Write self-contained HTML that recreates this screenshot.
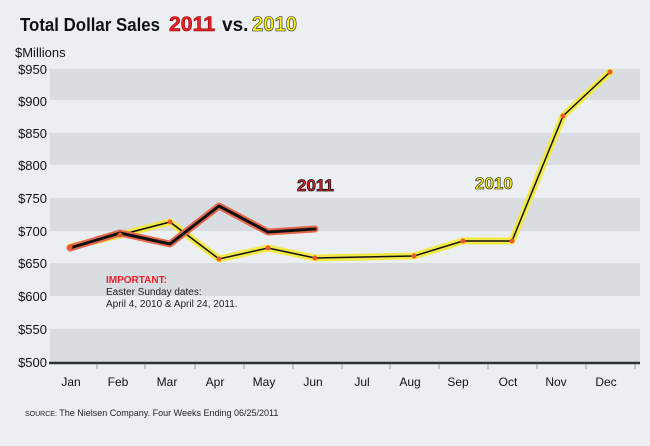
<!DOCTYPE html>
<html><head><style>
body{margin:0;background:#eceff2;}
svg{display:block;font-family:"Liberation Sans",sans-serif;}
</style></head><body>
<svg width="650" height="446" xmlns="http://www.w3.org/2000/svg">
<rect width="650" height="446" fill="#eceff2"/>
<text x="20" y="31" font-size="18" font-weight="bold" fill="#111" textLength="140" lengthAdjust="spacingAndGlyphs">Total Dollar Sales</text>
<text x="169" y="31" font-size="21" font-weight="bold" fill="#e8202a" stroke="#8b0000" stroke-width="0.6" textLength="46" lengthAdjust="spacingAndGlyphs">2011</text>
<text x="222" y="31" font-size="19" font-weight="bold" fill="#111">vs.</text>
<text x="252" y="31" font-size="21" font-weight="bold" fill="#f8ee20" stroke="#222" stroke-width="0.6" textLength="45" lengthAdjust="spacingAndGlyphs">2010</text>
<text x="15" y="57" font-size="13" fill="#111">$Millions</text>
<g fill="#d9dde1">
<rect x="50" y="69" width="590" height="31"/>
<rect x="50" y="133" width="590" height="32"/>
<rect x="50" y="198" width="590" height="33"/>
<rect x="50" y="263" width="590" height="33"/>
<rect x="50" y="329" width="590" height="33"/>
</g>
<g font-size="13" fill="#111" text-anchor="end">
<text x="47" y="74">$950</text><text x="47" y="106">$900</text><text x="47" y="138">$850</text>
<text x="47" y="170">$800</text><text x="47" y="203">$750</text><text x="47" y="236">$700</text>
<text x="47" y="268">$650</text><text x="47" y="301">$600</text><text x="47" y="334">$550</text>
<text x="47" y="367">$500</text>
</g>
<line x1="49" y1="363" x2="640" y2="363" stroke="#2a3238" stroke-width="2.5"/>
<g stroke="#999" stroke-width="1">
<line x1="97" y1="364" x2="97" y2="369"/><line x1="145" y1="364" x2="145" y2="369"/><line x1="195" y1="364" x2="195" y2="369"/><line x1="244" y1="364" x2="244" y2="369"/><line x1="293" y1="364" x2="293" y2="369"/><line x1="342" y1="364" x2="342" y2="369"/><line x1="390" y1="364" x2="390" y2="369"/><line x1="439" y1="364" x2="439" y2="369"/><line x1="488" y1="364" x2="488" y2="369"/><line x1="537" y1="364" x2="537" y2="369"/><line x1="586" y1="364" x2="586" y2="369"/><line x1="635" y1="364" x2="635" y2="369"/>
</g>
<g font-size="12" fill="#111" text-anchor="middle">
<text x="71" y="386">Jan</text><text x="118" y="386">Feb</text><text x="167" y="386">Mar</text><text x="215" y="386">Apr</text><text x="264" y="386">May</text><text x="313" y="386">Jun</text><text x="362" y="386">Jul</text><text x="410" y="386">Aug</text><text x="458" y="386">Sep</text><text x="508" y="386">Oct</text><text x="556" y="386">Nov</text><text x="606" y="386">Dec</text>
</g>
<text x="25" y="416" font-size="9" fill="#222"><tspan font-size="7">SOURCE:</tspan> The Nielsen Company. Four Weeks Ending 06/25/2011</text>
<text x="106" y="283" font-size="10" font-weight="bold" fill="#e8202a">IMPORTANT:</text>
<text x="106" y="295" font-size="10" fill="#222">Easter Sunday dates:</text>
<text x="106" y="307" font-size="10" fill="#222">April 4, 2010 &amp; April 24, 2011.</text>
<text x="297" y="191" font-size="17" font-weight="bold" fill="#e8202a" stroke="#111" stroke-width="0.8">2011</text>
<text x="475" y="189" font-size="17" font-weight="bold" fill="#f8ee20" stroke="#111" stroke-width="0.6">2010</text>
<polyline points="70,247 120,235 170,222 219,259 268,248 315,258 414,256 463,241 512,241 563,116 610,72" fill="none" stroke="#f3e849" stroke-width="7" stroke-linejoin="round" stroke-linecap="round"/>
<polyline points="70,247 120,235 170,222 219,259 268,248 315,258 414,256 463,241 512,241 563,116 610,72" fill="none" stroke="#111" stroke-width="1.5"/>
<polyline points="70,248 120,233 170,244 219,206 268,232 315,229" fill="none" stroke="#e4684e" stroke-width="7" stroke-linejoin="round" stroke-linecap="round"/>
<polyline points="70,248 120,233 170,244 219,206 268,232 315,229" fill="none" stroke="#111" stroke-width="3" stroke-linejoin="round" stroke-linecap="round"/>
<g fill="#e85a2a">
<circle cx="70" cy="247" r="2.5"/><circle cx="120" cy="235" r="2.5"/><circle cx="170" cy="222" r="2.5"/><circle cx="219" cy="259" r="2.5"/><circle cx="268" cy="248" r="2.5"/><circle cx="315" cy="258" r="2.5"/><circle cx="414" cy="256" r="2.5"/><circle cx="463" cy="241" r="2.5"/><circle cx="512" cy="241" r="2.5"/><circle cx="563" cy="116" r="2.5"/><circle cx="610" cy="72" r="2.5"/>
</g>
</svg>
</body></html>
